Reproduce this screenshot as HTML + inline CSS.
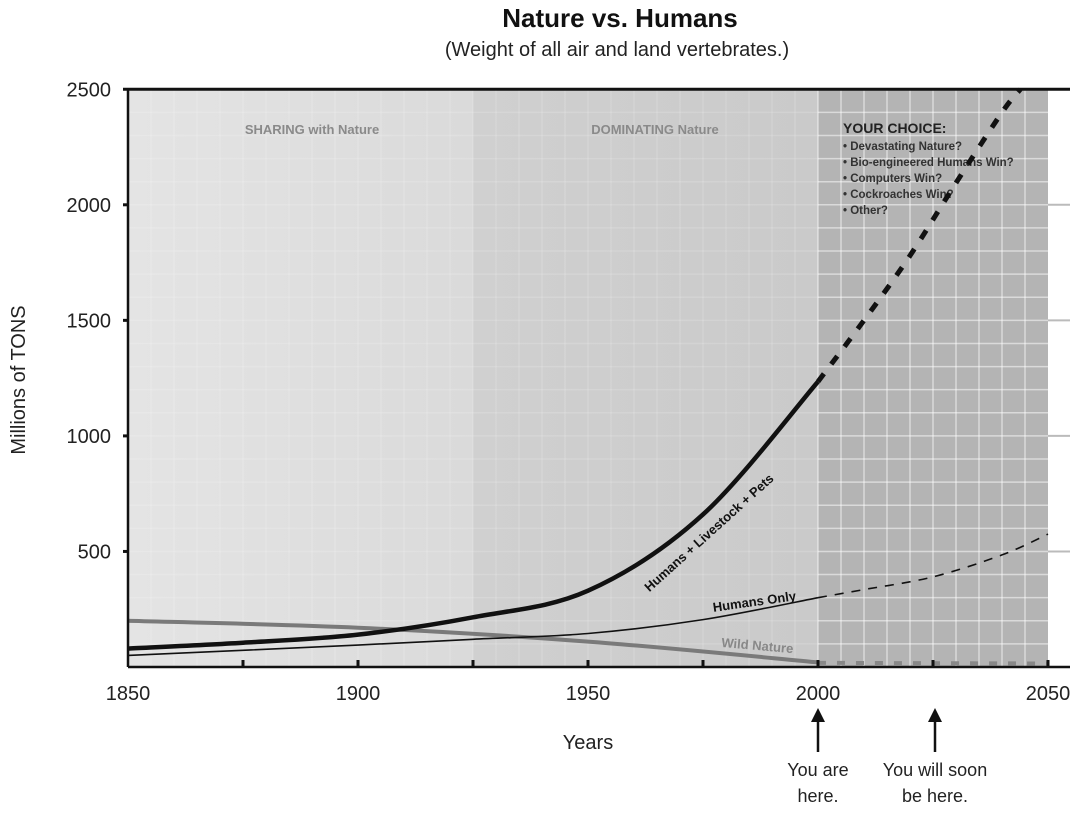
<!DOCTYPE html>
<html><head><meta charset="utf-8"><style>
body{margin:0;background:#fff;width:1082px;height:808px;overflow:hidden;font-family:"Liberation Sans",sans-serif}
svg text{font-family:"Liberation Sans",sans-serif}
</style></head><body>
<svg id="chart" width="1082" height="808" xmlns="http://www.w3.org/2000/svg">
<defs>
<linearGradient id="g1" x1="0" x2="1"><stop offset="0" stop-color="#e4e4e4"/><stop offset="1" stop-color="#dadada"/></linearGradient>
<linearGradient id="g2" x1="0" x2="1"><stop offset="0" stop-color="#d0d0d0"/><stop offset="1" stop-color="#cacaca"/></linearGradient>
</defs>
<text x="620" y="27" text-anchor="middle" font-size="26" font-weight="bold" fill="#111">Nature vs. Humans</text>
<text x="617" y="56" text-anchor="middle" font-size="20" fill="#222">(Weight of all air and land vertebrates.)</text>
<g id="bg"></g>
<g id="grid"></g>
<text x="312" y="134" text-anchor="middle" font-size="13" font-weight="bold" fill="#8a8a8a">SHARING with Nature</text>
<text x="655" y="134" text-anchor="middle" font-size="13" font-weight="bold" fill="#8a8a8a">DOMINATING Nature</text>
<g fill="#222">
<text x="843" y="133" font-size="14" font-weight="bold">YOUR CHOICE:</text>
<text x="843" y="150" font-size="11.5" font-weight="bold" fill="#333">•  Devastating Nature?</text>
<text x="843" y="166" font-size="11.5" font-weight="bold" fill="#333">•  Bio-engineered Humans Win?</text>
<text x="843" y="182" font-size="11.5" font-weight="bold" fill="#333">•  Computers Win?</text>
<text x="843" y="198" font-size="11.5" font-weight="bold" fill="#333">•  Cockroaches Win?</text>
<text x="843" y="214" font-size="11.5" font-weight="bold" fill="#333">•  Other?</text>
</g>
<g id="series"></g>
<g id="axes"></g>
<text x="712" y="536" font-size="13" font-weight="bold" fill="#111" transform="rotate(-42 712 536)" text-anchor="middle">Humans + Livestock + Pets</text>
<text x="755" y="606" font-size="13" font-weight="bold" fill="#111" transform="rotate(-8 755 606)" text-anchor="middle">Humans Only</text>
<text x="757" y="650" font-size="13" font-weight="bold" fill="#888" transform="rotate(5 757 650)" text-anchor="middle">Wild Nature</text>
<text x="588" y="749" text-anchor="middle" font-size="20" fill="#222">Years</text>
<text x="0" y="0" transform="translate(25 380) rotate(-90)" text-anchor="middle" font-size="20" fill="#222">Millions of TONS</text>
<g>
<line x1="818" y1="752" x2="818" y2="718" stroke="#111" stroke-width="2.5"/><polygon points="811,722 818,708 825,722" fill="#111"/>
<text x="818" y="776" text-anchor="middle" font-size="18" fill="#222">You are</text>
<text x="818" y="802" text-anchor="middle" font-size="18" fill="#222">here.</text>
</g>
<g>
<line x1="935" y1="752" x2="935" y2="718" stroke="#111" stroke-width="2.5"/><polygon points="928,722 935,708 942,722" fill="#111"/>
<text x="935" y="776" text-anchor="middle" font-size="18" fill="#222">You will soon</text>
<text x="935" y="802" text-anchor="middle" font-size="18" fill="#222">be here.</text>
</g>
</svg>
<script>
const years=[1850,1875,1900,1925,1950,1975,2000];
const totalValues=[80,105,140,215,330,660,1235];
const totalProjYears=[2000,2010,2020,2030,2040,2044];
const totalProjValues=[1235,1500,1780,2095,2400,2500];
const humansYears=[1850,1900,1925,1950,1975,2000];
const humansValues=[50,95,120,145,205,300];
const humansProjYears=[2000,2010,2025,2040,2050];
const humansProjValues=[300,335,390,485,575];
const wildYears=[1850,1900,1950,2000];
const wildValues=[200,170,110,20];
const wildProjYears=[2000,2050];
const wildProjValues=[18,15];
const xTicks=[1850,1900,1950,2000,2050];
const yTicks=[500,1000,1500,2000,2500];
const NS="http://www.w3.org/2000/svg";
const x=v=>128+(v-1850)*4.6;
const y=v=>667-v*0.2311;
function mk(tag,attrs,parent){const e=document.createElementNS(NS,tag);for(const k in attrs)e.setAttribute(k,attrs[k]);document.getElementById(parent).appendChild(e);return e;}
function curve(xs,ys){let d="";xs.forEach((xv,i)=>{const px=x(xv),py=y(ys[i]);if(i===0){d+="M"+px+","+py;return;}const p0=i>1?[x(xs[i-2]),y(ys[i-2])]:[x(xs[i-1]),y(ys[i-1])];const p1=[x(xs[i-1]),y(ys[i-1])];const p3=i<xs.length-1?[x(xs[i+1]),y(ys[i+1])]:[px,py];const c1=[p1[0]+(px-p0[0])/6,p1[1]+(py-p0[1])/6];const c2=[px-(p3[0]-p1[0])/6,py-(p3[1]-p1[1])/6];d+=" C"+c1+" "+c2+" "+px+","+py;});return d;}
let r=mk('rect',{x:x(1850),y:y(2500),width:x(1925)-x(1850),height:y(0)-y(2500),fill:'url(#g1)'},'bg');


r=mk('rect',{x:x(1925),y:y(2500),width:x(2000)-x(1925),height:y(0)-y(2500),fill:'url(#g2)'},'bg');


r=mk('rect',{x:x(2000),y:y(2500),width:x(2050)-x(2000),height:y(0)-y(2500),fill:'#b4b4b4'},'bg');


for(let yr=1855;yr<2050;yr+=5){const l=mk('line',{x1:x(yr),x2:x(yr),y1:y(2500),y2:y(0),stroke:'#fff','stroke-opacity':yr>=2000?0.5:0.15,'stroke-width':1.5},'grid');}
for(let v=100;v<2500;v+=100){let l=mk('line',{x1:x(1850),x2:x(2000),y1:y(v),y2:y(v),stroke:'#fff','stroke-opacity':0.15,'stroke-width':1.5},'grid');
l=mk('line',{x1:x(2000),x2:x(2050),y1:y(v),y2:y(v),stroke:'#fff','stroke-opacity':0.5,'stroke-width':1.5},'grid');}
let p=mk('path',{d:curve(wildYears,wildValues),fill:'none',stroke:'#7a7a7a','stroke-width':4},'series');


p=mk('path',{d:curve(wildProjYears,wildProjValues),fill:'none',stroke:'#888','stroke-width':4,'stroke-dasharray':'8 11'},'series');


p=mk('path',{d:curve(humansYears,humansValues),fill:'none',stroke:'#111','stroke-width':1.6},'series');


p=mk('path',{d:curve(humansProjYears,humansProjValues),fill:'none',stroke:'#111','stroke-width':1.6,'stroke-dasharray':'9 8'},'series');


p=mk('path',{d:curve(years,totalValues),fill:'none',stroke:'#111','stroke-width':4.5},'series');


p=mk('path',{d:curve(totalProjYears,totalProjValues),fill:'none',stroke:'#111','stroke-width':5,'stroke-dasharray':'10 12'},'series');


let a=mk('line',{x1:x(1850),x2:1070,y1:y(0),y2:y(0),stroke:'#111','stroke-width':2.5},'axes');


a=mk('line',{x1:x(1850),x2:1070,y1:y(2500),y2:y(2500),stroke:'#111','stroke-width':3},'axes');


a=mk('line',{x1:x(1850),x2:x(1850),y1:y(2500),y2:y(0),stroke:'#111','stroke-width':2.5},'axes');


for(let yr=1875;yr<=2050;yr+=25){const t=mk('line',{x1:x(yr),x2:x(yr),y1:y(0),y2:y(0)-7,stroke:'#111','stroke-width':3},'axes');}
xTicks.forEach(v=>{const t=mk('text',{x:x(v),y:700,'text-anchor':'middle','font-size':20,fill:'#222'},'axes');t.textContent=v;});
yTicks.forEach(v=>{const t=mk('text',{x:111,y:y(v)+7,'text-anchor':'end','font-size':20,fill:'#222'},'axes');t.textContent=v;
const k=mk('line',{x1:x(1850)-5,x2:x(1850),y1:y(v),y2:y(v),stroke:'#111','stroke-width':3},'axes');
if(v<2500){const g=mk('line',{x1:x(2050),x2:1070,y1:y(v),y2:y(v),stroke:'#bbb','stroke-width':2},'axes');}});
</script>
</body></html>
